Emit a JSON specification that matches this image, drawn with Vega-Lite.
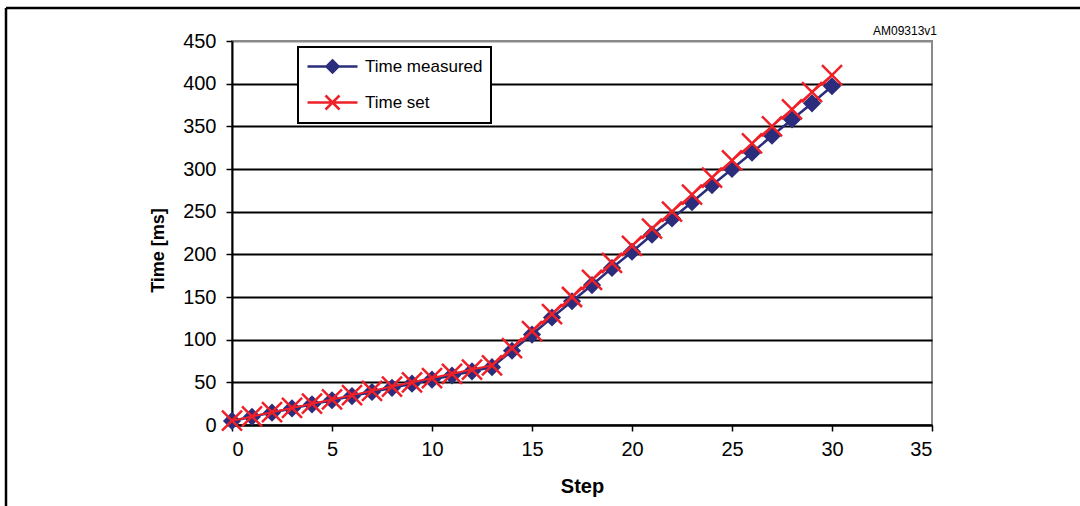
{
  "$schema": "https://vega.github.io/schema/vega-lite/v6.json",
  "width": 700,
  "height": 384,
  "autosize": {"type": "none"},
  "padding": {"left": 232, "top": 41, "right": 148, "bottom": 81},
  "background": "white",
  "config": {
    "font": "Liberation Sans",
    "view": {"stroke": "#8a8a8a", "strokeWidth": 2},
    "axis": {
      "domainColor": "black",
      "domainWidth": 2,
      "tickColor": "black",
      "tickWidth": 1.5,
      "tickSize": 6,
      "labelColor": "black",
      "labelFont": "Liberation Sans",
      "labelFontSize": 20,
      "titleFont": "Liberation Sans",
      "titleFontSize": 20,
      "titleFontWeight": "bold",
      "titleColor": "black"
    },
    "legend": {
      "labelFont": "Liberation Sans",
      "labelFontSize": 17,
      "labelColor": "black",
      "strokeColor": "black",
      "strokeWidth": 2
    }
  },
  "data": {
    "values": [
      {"step": 0, "series": "Time measured", "time": 4.8},
      {"step": 1, "series": "Time measured", "time": 9.7},
      {"step": 2, "series": "Time measured", "time": 14.5},
      {"step": 3, "series": "Time measured", "time": 19.4},
      {"step": 4, "series": "Time measured", "time": 24.2},
      {"step": 5, "series": "Time measured", "time": 29},
      {"step": 6, "series": "Time measured", "time": 33.9},
      {"step": 7, "series": "Time measured", "time": 38.7},
      {"step": 8, "series": "Time measured", "time": 43.6},
      {"step": 9, "series": "Time measured", "time": 48.4},
      {"step": 10, "series": "Time measured", "time": 53.2},
      {"step": 11, "series": "Time measured", "time": 58},
      {"step": 12, "series": "Time measured", "time": 62.9},
      {"step": 13, "series": "Time measured", "time": 67.8},
      {"step": 14, "series": "Time measured", "time": 87},
      {"step": 15, "series": "Time measured", "time": 106},
      {"step": 16, "series": "Time measured", "time": 126},
      {"step": 17, "series": "Time measured", "time": 145},
      {"step": 18, "series": "Time measured", "time": 164},
      {"step": 19, "series": "Time measured", "time": 184},
      {"step": 20, "series": "Time measured", "time": 203},
      {"step": 21, "series": "Time measured", "time": 223},
      {"step": 22, "series": "Time measured", "time": 242},
      {"step": 23, "series": "Time measured", "time": 261},
      {"step": 24, "series": "Time measured", "time": 281},
      {"step": 25, "series": "Time measured", "time": 300},
      {"step": 26, "series": "Time measured", "time": 319},
      {"step": 27, "series": "Time measured", "time": 339},
      {"step": 28, "series": "Time measured", "time": 358},
      {"step": 29, "series": "Time measured", "time": 377},
      {"step": 30, "series": "Time measured", "time": 397},
      {"step": 0, "series": "Time set", "time": 5},
      {"step": 1, "series": "Time set", "time": 10},
      {"step": 2, "series": "Time set", "time": 15},
      {"step": 3, "series": "Time set", "time": 20},
      {"step": 4, "series": "Time set", "time": 25},
      {"step": 5, "series": "Time set", "time": 30},
      {"step": 6, "series": "Time set", "time": 35},
      {"step": 7, "series": "Time set", "time": 40},
      {"step": 8, "series": "Time set", "time": 45},
      {"step": 9, "series": "Time set", "time": 50},
      {"step": 10, "series": "Time set", "time": 55},
      {"step": 11, "series": "Time set", "time": 60},
      {"step": 12, "series": "Time set", "time": 65},
      {"step": 13, "series": "Time set", "time": 70},
      {"step": 14, "series": "Time set", "time": 90},
      {"step": 15, "series": "Time set", "time": 110},
      {"step": 16, "series": "Time set", "time": 130},
      {"step": 17, "series": "Time set", "time": 150},
      {"step": 18, "series": "Time set", "time": 170},
      {"step": 19, "series": "Time set", "time": 190},
      {"step": 20, "series": "Time set", "time": 210},
      {"step": 21, "series": "Time set", "time": 230},
      {"step": 22, "series": "Time set", "time": 250},
      {"step": 23, "series": "Time set", "time": 270},
      {"step": 24, "series": "Time set", "time": 290},
      {"step": 25, "series": "Time set", "time": 310},
      {"step": 26, "series": "Time set", "time": 330},
      {"step": 27, "series": "Time set", "time": 350},
      {"step": 28, "series": "Time set", "time": 370},
      {"step": 29, "series": "Time set", "time": 390},
      {"step": 30, "series": "Time set", "time": 410}
    ]
  },
  "encoding": {
    "x": {
      "field": "step",
      "type": "quantitative",
      "scale": {"domain": [0, 35], "nice": false, "zero": false},
      "axis": {
        "title": "Step",
        "values": [0, 5, 10, 15, 20, 25, 30, 35],
        "grid": false,
        "labelPadding": 8,
        "titlePadding": 17
      }
    },
    "y": {
      "field": "time",
      "type": "quantitative",
      "scale": {"domain": [0, 450], "nice": false},
      "axis": {
        "title": "Time [ms]",
        "titleFontSize": 18,
        "titleY": 209,
        "values": [0, 50, 100, 150, 200, 250, 300, 350, 400, 450],
        "grid": true,
        "gridWidth": 2,
        "gridOpacity": 1,
        "gridColor": {"condition": {"test": "datum.value == 450", "value": "#8a8a8a"}, "value": "black"},
        "labelPadding": 10,
        "titlePadding": 15
      }
    }
  },
  "layer": [
    {
      "transform": [{"filter": "datum.series == 'Time measured'"}],
      "mark": {"type": "line", "color": "#2b2c7c", "strokeWidth": 2.5}
    },
    {
      "transform": [{"filter": "datum.series == 'Time measured'"}],
      "mark": {"type": "point", "shape": "diamond", "filled": true, "color": "#2b2c7c", "size": 330, "opacity": 1}
    },
    {
      "transform": [{"filter": "datum.series == 'Time set'"}],
      "mark": {"type": "line", "color": "#ee2129", "strokeWidth": 2}
    },
    {
      "transform": [{"filter": "datum.series == 'Time set'"}],
      "mark": {"type": "point", "shape": "M-1,-1L1,1M-1,1L1,-1", "filled": false, "color": "#ee2129", "strokeWidth": 2.5, "size": 400, "opacity": 1}
    },
    {
      "transform": [{"filter": "false"}],
      "mark": {"type": "point", "filled": true, "strokeWidth": 2.5, "opacity": 1},
      "encoding": {
        "shape": {
          "field": "series",
          "type": "nominal",
          "scale": {
            "domain": ["Time measured", "Time set"],
            "range": ["M-2.5,0H2.5M0,-0.6L0.6,0L0,0.6L-0.6,0Z", "M-2.5,0H2.5M-0.7,-0.7L0.7,0.7M-0.7,0.7L0.7,-0.7"]
          },
          "legend": {
            "title": null,
            "orient": "none",
            "legendX": 66,
            "legendY": 6,
            "padding": 8,
            "rowPadding": 12,
            "symbolSize": 400,
            "symbolOffset": 15,
            "labelOffset": 21,
            "fillColor": "white",
            "symbolStrokeWidth": 2.5
          }
        },
        "fill": {
          "field": "series",
          "type": "nominal",
          "scale": {"domain": ["Time measured", "Time set"], "range": ["#2b2c7c", "#ee2129"]}
        },
        "stroke": {
          "field": "series",
          "type": "nominal",
          "scale": {"domain": ["Time measured", "Time set"], "range": ["#2b2c7c", "#ee2129"]}
        }
      }
    },
    {
      "transform": [{"filter": "datum.step == 0 && datum.series == 'Time set'"}],
      "mark": {"type": "rule", "color": "black", "strokeWidth": 2.5},
      "encoding": {
        "x": {"datum": -11.3},
        "y": {"datum": 488.7},
        "y2": {"datum": -120}
      }
    },
    {
      "transform": [{"filter": "datum.step == 0 && datum.series == 'Time set'"}],
      "mark": {"type": "rule", "color": "black", "strokeWidth": 2.5},
      "encoding": {
        "x": {"datum": -11.3},
        "x2": {"datum": 60},
        "y": {"datum": 488.7}
      }
    },
    {
      "transform": [{"filter": "datum.step == 0 && datum.series == 'Time set'"}],
      "mark": {"type": "text", "text": "AM09313v1", "align": "right", "baseline": "middle", "fontSize": 12, "font": "Liberation Sans", "color": "black"},
      "encoding": {
        "x": {"datum": 35.25},
        "y": {"datum": 461.5}
      }
    }
  ]
}
